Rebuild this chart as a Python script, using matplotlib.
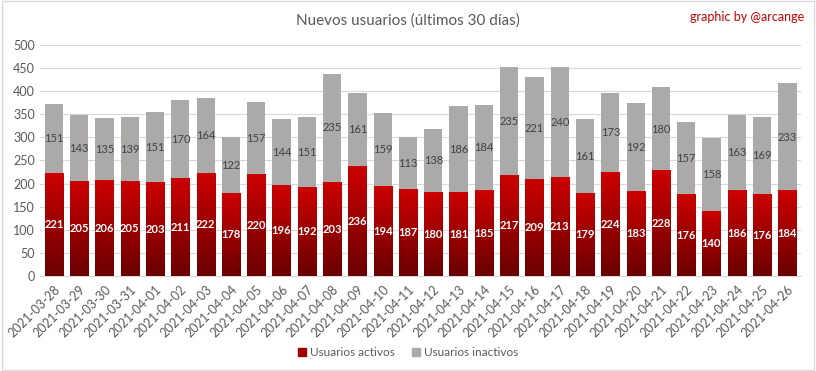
import matplotlib
matplotlib.use("Agg")
import matplotlib.pyplot as plt
import numpy as np
from matplotlib.colors import LinearSegmentedColormap
from matplotlib.patches import Rectangle, Patch

plt.rcParams["font.family"] = ["Lato", "DejaVu Sans"]

dates = ["2021-03-28", "2021-03-29", "2021-03-30", "2021-03-31", "2021-04-01",
         "2021-04-02", "2021-04-03", "2021-04-04", "2021-04-05", "2021-04-06",
         "2021-04-07", "2021-04-08", "2021-04-09", "2021-04-10", "2021-04-11",
         "2021-04-12", "2021-04-13", "2021-04-14", "2021-04-15", "2021-04-16",
         "2021-04-17", "2021-04-18", "2021-04-19", "2021-04-20", "2021-04-21",
         "2021-04-22", "2021-04-23", "2021-04-24", "2021-04-25", "2021-04-26"]
activos = [221, 205, 206, 205, 203, 211, 222, 178, 220, 196, 192, 203, 236, 194, 187,
           180, 181, 185, 217, 209, 213, 179, 224, 183, 228, 176, 140, 186, 176, 184]
inactivos = [151, 143, 135, 139, 151, 170, 164, 122, 157, 144, 151, 235, 161, 159, 113,
             138, 186, 184, 235, 221, 240, 161, 173, 192, 180, 157, 158, 163, 169, 233]

red_cmap = LinearSegmentedColormap.from_list("reds", ["#6a0000", "#cc0000"])
gray = "#aca9a9"

fig = plt.figure(figsize=(8.16, 3.71), dpi=100)
ax = fig.add_axes([0.049, 0.256, 0.933, 0.623])

x = np.arange(len(dates))
w = 0.72
ax.bar(x, activos, w, color="#cc0000", zorder=2)
ax.bar(x, inactivos, w, bottom=activos, color=gray, zorder=2)

# red bars get a vertical gradient, dark at the bottom
grad = np.linspace(0, 1, 256).reshape(-1, 1)
for xi, h in zip(x, activos):
    ax.imshow(grad, cmap=red_cmap, origin="lower", aspect="auto",
              extent=[xi - w / 2, xi + w / 2, 0, h], zorder=3)

for xi, a, i in zip(x, activos, inactivos):
    ax.text(xi, a / 2, str(a), ha="center", va="center", color="white",
            fontsize=8, fontweight="bold", zorder=4)
    ax.text(xi, a + i / 2, str(i), ha="center", va="center", color="#404040",
            fontsize=8, zorder=4)

ax.set_xlim(-0.55, len(dates) - 0.45)
ax.set_ylim(0, 500)
ax.set_yticks(range(0, 501, 50))
ax.set_xticks(x)
ax.set_xticklabels(dates, rotation=45, ha="right", rotation_mode="anchor")
ax.tick_params(axis="both", length=0, labelsize=9, colors="#595959")
ax.tick_params(axis="x", pad=5)
ax.grid(axis="y", color="#d9d9d9", linewidth=0.8, zorder=0)
for s in ["top", "right", "left"]:
    ax.spines[s].set_visible(False)
ax.spines["bottom"].set_color("#d9d9d9")

fig.text(0.5, 0.945, "Nuevos usuarios (últimos 30 días)", ha="center", va="center",
         fontsize=11, color="#595959")
fig.text(0.985, 0.955, "graphic by @arcange", ha="right", va="center",
         fontsize=9, color="#c00000")

handles = [Patch(color="#a00000"), Patch(color=gray)]
fig.legend(handles=handles, labels=["Usuarios activos", "Usuarios inactivos"],
           loc="center", bbox_to_anchor=(0.5, 0.05), ncol=2, frameon=False,
           fontsize=8.5, handlelength=0.7, handleheight=0.7, columnspacing=1.5,
           handletextpad=0.3, labelcolor="#595959")

fig.patches.append(Rectangle((0.002, 0.003), 0.996, 0.994, transform=fig.transFigure,
                             fill=False, edgecolor="#d9d9d9", linewidth=1))

fig.savefig("out.png", dpi=100)
